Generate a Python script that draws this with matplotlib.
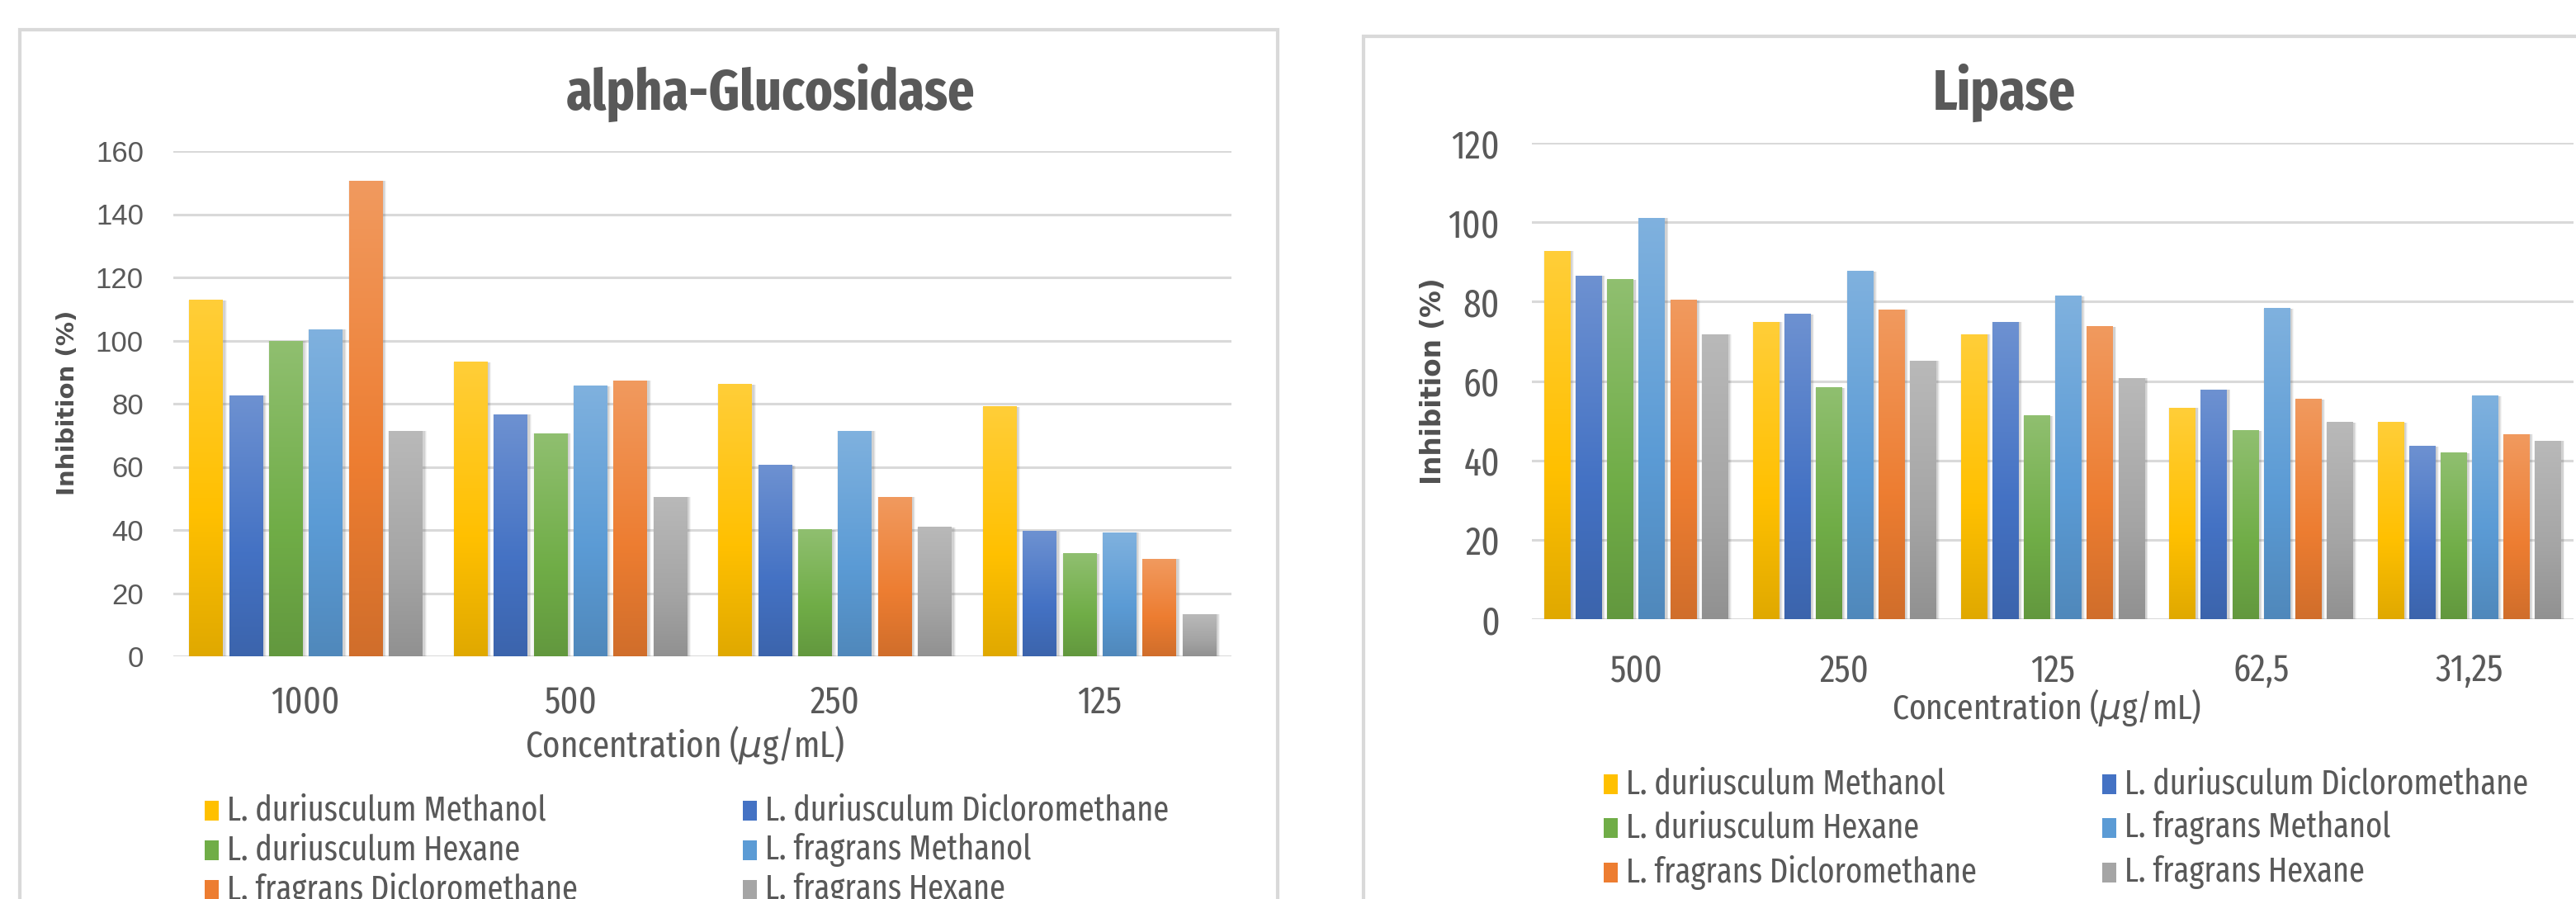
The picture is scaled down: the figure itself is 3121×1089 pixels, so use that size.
import numpy as np
import matplotlib
matplotlib.use("Agg")
from matplotlib import pyplot as plt
from matplotlib.patches import Rectangle
from matplotlib.colors import to_rgb

# ---- data -------------------------------------------------------------
series_names = [
    "L. duriusculum Methanol",
    "L. duriusculum Dicloromethane",
    "L. duriusculum Hexane",
    "L. fragrans Methanol",
    "L. fragrans Dicloromethane",
    "L. fragrans Hexane",
]
series_colors = ["#FFC000", "#4472C4", "#70AD47", "#5B9BD5", "#ED7D31", "#A5A5A5"]

glu_conc = ["1000", "500", "250", "125"]
glu_dur_methanol = [112.8, 93.1, 86.1, 79.0]
glu_dur_dcm = [82.5, 76.6, 60.4, 39.6]
glu_dur_hexane = [99.8, 70.5, 40.1, 32.5]
glu_fra_methanol = [103.4, 85.5, 71.3, 39.1]
glu_fra_dcm = [150.5, 87.3, 50.4, 30.8]
glu_fra_hexane = [71.3, 50.4, 40.9, 13.3]

lip_conc = ["500", "250", "125", "62,5", "31,25"]
lip_dur_methanol = [92.7, 74.8, 71.7, 53.2, 49.6]
lip_dur_dcm = [86.5, 76.8, 74.8, 57.8, 43.5]
lip_dur_hexane = [85.5, 58.3, 51.2, 47.5, 41.9]
lip_fra_methanol = [101.0, 87.6, 81.4, 78.3, 56.2]
lip_fra_dcm = [80.3, 77.9, 73.7, 55.4, 46.5]
lip_fra_hexane = [71.7, 65.0, 60.7, 49.6, 44.9]

glu_series = [glu_dur_methanol, glu_dur_dcm, glu_dur_hexane,
              glu_fra_methanol, glu_fra_dcm, glu_fra_hexane]
lip_series = [lip_dur_methanol, lip_dur_dcm, lip_dur_hexane,
              lip_fra_methanol, lip_fra_dcm, lip_fra_hexane]

# ---- styling ----------------------------------------------------------
W, H = 3121, 1089
NARROW = ["Fira Sans Extra Condensed", "Fira Sans Condensed", "DejaVu Sans"]
WIDE = ["Liberation Sans", "DejaVu Sans"]
TEXT = "#595959"
GRID = "#D9D9D9"

BAR_W = 0.125
BAR_STEP = 0.151


def fx(px):
    return px / W


def fy(px):
    return 1 - px / H


def gradient_for(color):
    base = np.array(to_rgb(color))
    light = base + (1 - base) * 0.22
    dark = base * 0.88
    t = np.linspace(0, 1, 80)[:, None]
    top = np.clip(t / 0.6, 0, 1)
    bottom = np.clip((t - 0.6) / 0.4, 0, 1)
    rgb = np.where(t < 0.6, light + (base - light) * top, base + (dark - base) * bottom)
    return rgb[:, None, :]


def draw_bars(axis, series, n_cat):
    x = np.arange(n_cat)
    for i, (values, color) in enumerate(zip(series, series_colors)):
        pos = x + (i - 2.5) * BAR_STEP
        # soft shadow
        for k, a in enumerate([0.12, 0.09, 0.06]):
            grow = 0.007 * (k + 1)
            axis.bar(pos + 0.007, values, width=BAR_W + grow, color="#505050",
                     alpha=a, zorder=2, linewidth=0)
        bars = axis.bar(pos, values, width=BAR_W, color=color, zorder=3, linewidth=0)
        grad = gradient_for(color)
        for bar in bars:
            x0 = bar.get_x()
            axis.imshow(grad, extent=(x0, x0 + bar.get_width(), 0, bar.get_height()),
                        aspect="auto", origin="upper", zorder=4, interpolation="bilinear")


def setup_axis(axis, n_cat, ymax, cats, ytick_font, ytick_size, xpad, ypad):
    axis.set_xlim(-0.5, n_cat - 0.5)
    axis.set_ylim(0, ymax)
    axis.set_yticks(np.arange(0, ymax + 1, 20))
    axis.set_xticks(np.arange(n_cat))
    axis.set_xticklabels(cats)
    axis.yaxis.grid(True, color=GRID, linewidth=2.2, zorder=0)
    axis.set_axisbelow(True)
    for spine in axis.spines.values():
        spine.set_visible(False)
    axis.tick_params(length=0, colors=TEXT)
    axis.tick_params(axis="x", pad=xpad, labelsize=33)
    axis.tick_params(axis="y", pad=ypad, labelsize=ytick_size)
    for lbl in axis.get_xticklabels():
        lbl.set_family(NARROW)
    for lbl in axis.get_yticklabels():
        lbl.set_family(ytick_font)
    axis.patch.set_alpha(0)


def draw_legend(fig, col_x, row_y):
    for i, (name, color) in enumerate(zip(series_names, series_colors)):
        cx = col_x[i % 2]
        ry = row_y[i // 2]
        fig.add_artist(Rectangle((fx(cx - 9), fy(ry + 12)), 17 / W, 24 / H,
                                 transform=fig.transFigure, color=color, linewidth=0))
        fig.text(fx(cx + 18), fy(ry), name, ha="left", va="center", fontsize=30,
                 family=NARROW, color=TEXT)


figure = plt.figure(figsize=(W / 100, H / 100), dpi=100)
figure.patch.set_facecolor("white")

# panel frames
figure.add_artist(Rectangle((fx(24), fy(1120)), (1548 - 24) / W, (1120 - 36) / H,
                            transform=figure.transFigure, fill=False, edgecolor=GRID,
                            linewidth=3))
figure.add_artist(Rectangle((fx(1652), fy(1120)), (3160 - 1652) / W, (1120 - 44) / H,
                            transform=figure.transFigure, fill=False, edgecolor=GRID,
                            linewidth=3))

# ---- alpha-Glucosidase -------------------------------------------------
ax1 = figure.add_axes([fx(210), fy(795), (1492 - 210) / W, (795 - 183) / H])
draw_bars(ax1, glu_series, len(glu_conc))
setup_axis(ax1, len(glu_conc), 160, glu_conc, WIDE, 25, 24, 26)
figure.text(fx(934), fy(112), "alpha-Glucosidase", ha="center", va="center", fontsize=50,
            fontweight="bold", family=NARROW, color=TEXT)
figure.text(fx(82), fy(488), "Inhibition (%)", ha="center", va="center", rotation=90,
            fontsize=21, fontweight="bold", color="#505050")
figure.text(fx(830), fy(902), r"Concentration ($\mu$g/mL)", ha="center", va="center",
            fontsize=32, family=NARROW, color=TEXT)
draw_legend(figure, [257, 909], [982, 1030, 1078])

# ---- Lipase ------------------------------------------------------------
ax2 = figure.add_axes([fx(1856), fy(750), (3118 - 1856) / W, (750 - 173) / H])
draw_bars(ax2, lip_series, len(lip_conc))
setup_axis(ax2, len(lip_conc), 120, lip_conc, NARROW, 34, 29, 28)
figure.text(fx(2428), fy(112), "Lipase", ha="center", va="center", fontsize=50,
            fontweight="bold", family=NARROW, color=TEXT)
figure.text(fx(1737), fy(462), "Inhibition (%)", ha="center", va="center", rotation=90,
            fontsize=23.5, fontweight="bold", color="#505050")
figure.text(fx(2480), fy(857), r"Concentration ($\mu$g/mL)", ha="center", va="center",
            fontsize=31, family=NARROW, color=TEXT)
draw_legend(figure, [1952, 2556], [950, 1003, 1057])

figure.savefig("out.png", dpi=100, facecolor="white")
